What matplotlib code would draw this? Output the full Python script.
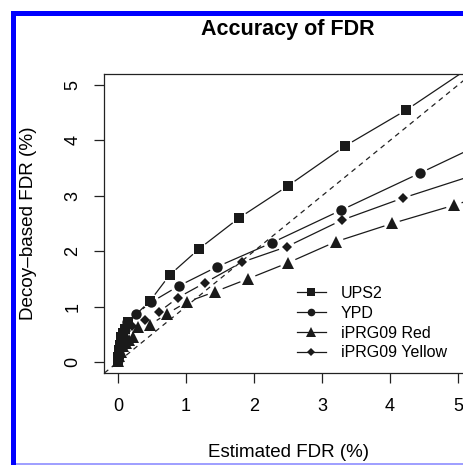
import numpy as np
import matplotlib
matplotlib.use("Agg")
from matplotlib import pyplot as plt
from matplotlib.lines import Line2D
from matplotlib.patches import Rectangle

plt.rcParams["font.family"] = ["Liberation Sans", "DejaVu Sans"]

# estimated FDR (%) vs decoy-based FDR (%)
ups2_x = [0.0, 0.005, 0.01, 0.02, 0.03, 0.04, 0.05, 0.07, 0.1, 0.15, 0.47, 0.76, 1.19, 1.78, 2.5, 3.34, 4.24, 5.15]
ups2_y = [0.02, 0.08, 0.15, 0.22, 0.3, 0.38, 0.45, 0.52, 0.6, 0.72, 1.1, 1.57, 2.04, 2.6, 3.18, 3.9, 4.55, 5.3]

ypd_x = [0.0, 0.01, 0.02, 0.03, 0.04, 0.06, 0.09, 0.13, 0.27, 0.49, 0.89, 1.46, 2.26, 3.28, 4.44, 5.4]
ypd_y = [0.03, 0.12, 0.22, 0.3, 0.38, 0.47, 0.58, 0.72, 0.87, 1.08, 1.37, 1.72, 2.15, 2.74, 3.41, 3.97]

red_x = [0.0, 0.02, 0.04, 0.07, 0.12, 0.16, 0.22, 0.29, 0.47, 0.72, 1.01, 1.43, 1.91, 2.5, 3.2, 4.03, 4.94, 5.5]
red_y = [0.02, 0.1, 0.18, 0.28, 0.35, 0.4, 0.45, 0.63, 0.67, 0.87, 1.08, 1.27, 1.5, 1.79, 2.17, 2.5, 2.83, 3.05]

yel_x = [0.0, 0.01, 0.03, 0.05, 0.08, 0.12, 0.2, 0.4, 0.6, 0.88, 1.28, 1.82, 2.48, 3.29, 4.19, 5.4]
yel_y = [0.02, 0.1, 0.2, 0.3, 0.42, 0.55, 0.65, 0.76, 0.9, 1.16, 1.43, 1.8, 2.08, 2.56, 2.96, 3.44]

labels = ["UPS2", "YPD", "iPRG09 Red", "iPRG09 Yellow"]
ticks = [0, 1, 2, 3, 4, 5]

W, H = 464, 465
fig = plt.figure(figsize=(W / 100, H / 100), dpi=100)


def fx(px):
    return px / W


def fy(py):
    return 1 - py / H


ax = fig.add_axes([fx(104), fy(373), fx(482) - fx(104), fy(74) - fy(373)])
ax.set_xlim(-0.206, 5.353)
ax.set_ylim(-0.2, 5.2)
ax.set_xticks(ticks)
ax.set_yticks(ticks)
ax.tick_params(direction="out", length=7.2, width=0.9, labelsize=13, color="#222222")
ax.tick_params(axis="x", pad=11)
ax.tick_params(axis="y", pad=9)
for lab in ax.get_yticklabels():
    lab.set_rotation(90)
    lab.set_va("center")
for s in ax.spines.values():
    s.set_linewidth(0.9)
    s.set_color("#222222")

# y = x reference
ax.plot([-0.2, 5.4], [-0.2, 5.4], color="#222222", lw=0.9, dashes=(4, 3.5))

col = "#1a1a1a"


def draw_b(x, y, marker, ms, gap=8):
    # lines with gaps around the points, like R type="b"
    pts = ax.transData.transform(np.column_stack([x, y]))
    inv = ax.transData.inverted()
    for p0, p1 in zip(pts[:-1], pts[1:]):
        d = p1 - p0
        L = np.hypot(*d)
        if L <= 2 * gap:
            continue
        u = d / L
        seg = inv.transform(np.array([p0 + u * gap, p1 - u * gap]))
        ax.plot(seg[:, 0], seg[:, 1], color=col, lw=0.9, solid_capstyle="butt")
    ax.plot(x, y, ls="none", marker=marker, ms=ms, color=col, mec=col, mew=0)


draw_b(ups2_x, ups2_y, "s", 7)
draw_b(ypd_x, ypd_y, "o", 7.5)
draw_b(red_x, red_y, "^", 8.5)
draw_b(yel_x, yel_y, "D", 5.5)

handles = [
    Line2D([], [], color=col, lw=0.9, marker="s", ms=5.5, mew=0),
    Line2D([], [], color=col, lw=0.9, marker="o", ms=5.5, mew=0),
    Line2D([], [], color=col, lw=0.9, marker="^", ms=6.5, mew=0),
    Line2D([], [], color=col, lw=0.9, marker="D", ms=4, mew=0),
]
fig.legend(handles, labels, loc="upper left", bbox_to_anchor=(fx(297), fy(286)),
           frameon=False, fontsize=11.5, handlelength=1.8, handletextpad=0.95,
           labelspacing=0.3, borderpad=0, borderaxespad=0)

fig.text(fx(288), fy(30), "Accuracy of FDR", ha="center", va="center",
         fontsize=15.5, fontweight="bold")
fig.text(fx(289), fy(452), "Estimated FDR (%)", ha="center", va="center", fontsize=13.5)
fig.text(fx(29), fy(223), "Decoy\u2013based FDR (%)", ha="center", va="center",
         fontsize=13.6, rotation=90)

# blue selection frame
fig.patches.append(Rectangle((fx(11), fy(465)), fx(5), fy(11) - fy(465), transform=fig.transFigure,
                             color="#0000ff", lw=0))
fig.patches.append(Rectangle((fx(11), fy(16)), 1, fy(11) - fy(16), transform=fig.transFigure,
                             color="#0000ff", lw=0))
fig.patches.append(Rectangle((fx(16), fy(465)), 1, fy(462.5) - fy(465), transform=fig.transFigure,
                             color="#a0a0ff", lw=0))

fig.savefig("out.png", dpi=100)
